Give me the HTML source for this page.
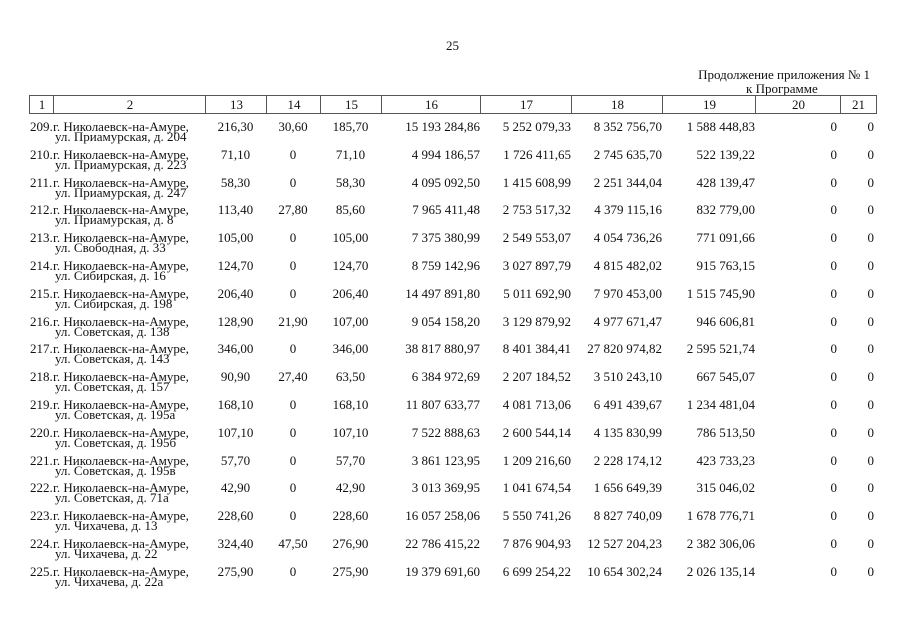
<!DOCTYPE html>
<html><head><meta charset="utf-8"><style>
body{margin:0;width:905px;height:640px;background:#fff;position:relative;overflow:hidden;font-family:"Liberation Serif","DejaVu Serif",serif;color:#111;font-size:13px}
.a{position:absolute;white-space:nowrap}
.h{position:absolute;top:95px;height:19px;border:1px solid #555;border-right:none;text-align:center;line-height:18px;box-sizing:border-box}
.r{position:absolute;left:0;width:905px;height:24px;line-height:10px}
.r span{position:absolute;top:0;white-space:nowrap}
.n{left:30px}
.t1{left:53px}
.t2{left:55px;top:10px!important}
.c13{left:205px;width:61px;text-align:center}
.c14{left:266px;width:54px;text-align:center}
.c15{left:320px;width:61px;text-align:center}
.c16{right:425px}
.c17{right:334px}
.c18{right:243px}
.c19{right:150px}
.c20{right:68px}
.c21{right:31px}
</style></head><body>
<div class="a" style="left:446px;top:38px">25</div>
<div class="a" style="right:35px;top:67px">Продолжение приложения № 1</div>
<div class="a" style="left:746px;top:81px">к Программе</div>
<div class="h" style="left:29px;width:25px">1</div>
<div class="h" style="left:53px;width:153px">2</div>
<div class="h" style="left:205px;width:62px">13</div>
<div class="h" style="left:266px;width:55px">14</div>
<div class="h" style="left:320px;width:62px">15</div>
<div class="h" style="left:381px;width:100px">16</div>
<div class="h" style="left:480px;width:92px">17</div>
<div class="h" style="left:571px;width:92px">18</div>
<div class="h" style="left:662px;width:94px">19</div>
<div class="h" style="left:755px;width:86px">20</div>
<div class="h" style="left:840px;width:37px;border-right:1px solid #555">21</div>

<div class="r" style="top:122px"><span class="n">209.</span><span class="t1">г. Николаевск-на-Амуре,</span><span class="t2">ул. Приамурская, д. 204</span><span class="c13">216,30</span><span class="c14">30,60</span><span class="c15">185,70</span><span class="c16">15 193 284,86</span><span class="c17">5 252 079,33</span><span class="c18">8 352 756,70</span><span class="c19">1 588 448,83</span><span class="c20">0</span><span class="c21">0</span></div>
<div class="r" style="top:149.8px"><span class="n">210.</span><span class="t1">г. Николаевск-на-Амуре,</span><span class="t2">ул. Приамурская, д. 223</span><span class="c13">71,10</span><span class="c14">0</span><span class="c15">71,10</span><span class="c16">4 994 186,57</span><span class="c17">1 726 411,65</span><span class="c18">2 745 635,70</span><span class="c19">522 139,22</span><span class="c20">0</span><span class="c21">0</span></div>
<div class="r" style="top:177.6px"><span class="n">211.</span><span class="t1">г. Николаевск-на-Амуре,</span><span class="t2">ул. Приамурская, д. 247</span><span class="c13">58,30</span><span class="c14">0</span><span class="c15">58,30</span><span class="c16">4 095 092,50</span><span class="c17">1 415 608,99</span><span class="c18">2 251 344,04</span><span class="c19">428 139,47</span><span class="c20">0</span><span class="c21">0</span></div>
<div class="r" style="top:205.4px"><span class="n">212.</span><span class="t1">г. Николаевск-на-Амуре,</span><span class="t2">ул. Приамурская, д. 8</span><span class="c13">113,40</span><span class="c14">27,80</span><span class="c15">85,60</span><span class="c16">7 965 411,48</span><span class="c17">2 753 517,32</span><span class="c18">4 379 115,16</span><span class="c19">832 779,00</span><span class="c20">0</span><span class="c21">0</span></div>
<div class="r" style="top:233.2px"><span class="n">213.</span><span class="t1">г. Николаевск-на-Амуре,</span><span class="t2">ул. Свободная, д. 33</span><span class="c13">105,00</span><span class="c14">0</span><span class="c15">105,00</span><span class="c16">7 375 380,99</span><span class="c17">2 549 553,07</span><span class="c18">4 054 736,26</span><span class="c19">771 091,66</span><span class="c20">0</span><span class="c21">0</span></div>
<div class="r" style="top:261px"><span class="n">214.</span><span class="t1">г. Николаевск-на-Амуре,</span><span class="t2">ул. Сибирская, д. 16</span><span class="c13">124,70</span><span class="c14">0</span><span class="c15">124,70</span><span class="c16">8 759 142,96</span><span class="c17">3 027 897,79</span><span class="c18">4 815 482,02</span><span class="c19">915 763,15</span><span class="c20">0</span><span class="c21">0</span></div>
<div class="r" style="top:288.8px"><span class="n">215.</span><span class="t1">г. Николаевск-на-Амуре,</span><span class="t2">ул. Сибирская, д. 198</span><span class="c13">206,40</span><span class="c14">0</span><span class="c15">206,40</span><span class="c16">14 497 891,80</span><span class="c17">5 011 692,90</span><span class="c18">7 970 453,00</span><span class="c19">1 515 745,90</span><span class="c20">0</span><span class="c21">0</span></div>
<div class="r" style="top:316.6px"><span class="n">216.</span><span class="t1">г. Николаевск-на-Амуре,</span><span class="t2">ул. Советская, д. 138</span><span class="c13">128,90</span><span class="c14">21,90</span><span class="c15">107,00</span><span class="c16">9 054 158,20</span><span class="c17">3 129 879,92</span><span class="c18">4 977 671,47</span><span class="c19">946 606,81</span><span class="c20">0</span><span class="c21">0</span></div>
<div class="r" style="top:344.4px"><span class="n">217.</span><span class="t1">г. Николаевск-на-Амуре,</span><span class="t2">ул. Советская, д. 143</span><span class="c13">346,00</span><span class="c14">0</span><span class="c15">346,00</span><span class="c16">38 817 880,97</span><span class="c17">8 401 384,41</span><span class="c18">27 820 974,82</span><span class="c19">2 595 521,74</span><span class="c20">0</span><span class="c21">0</span></div>
<div class="r" style="top:372.2px"><span class="n">218.</span><span class="t1">г. Николаевск-на-Амуре,</span><span class="t2">ул. Советская, д. 157</span><span class="c13">90,90</span><span class="c14">27,40</span><span class="c15">63,50</span><span class="c16">6 384 972,69</span><span class="c17">2 207 184,52</span><span class="c18">3 510 243,10</span><span class="c19">667 545,07</span><span class="c20">0</span><span class="c21">0</span></div>
<div class="r" style="top:400px"><span class="n">219.</span><span class="t1">г. Николаевск-на-Амуре,</span><span class="t2">ул. Советская, д. 195а</span><span class="c13">168,10</span><span class="c14">0</span><span class="c15">168,10</span><span class="c16">11 807 633,77</span><span class="c17">4 081 713,06</span><span class="c18">6 491 439,67</span><span class="c19">1 234 481,04</span><span class="c20">0</span><span class="c21">0</span></div>
<div class="r" style="top:427.8px"><span class="n">220.</span><span class="t1">г. Николаевск-на-Амуре,</span><span class="t2">ул. Советская, д. 195б</span><span class="c13">107,10</span><span class="c14">0</span><span class="c15">107,10</span><span class="c16">7 522 888,63</span><span class="c17">2 600 544,14</span><span class="c18">4 135 830,99</span><span class="c19">786 513,50</span><span class="c20">0</span><span class="c21">0</span></div>
<div class="r" style="top:455.6px"><span class="n">221.</span><span class="t1">г. Николаевск-на-Амуре,</span><span class="t2">ул. Советская, д. 195в</span><span class="c13">57,70</span><span class="c14">0</span><span class="c15">57,70</span><span class="c16">3 861 123,95</span><span class="c17">1 209 216,60</span><span class="c18">2 228 174,12</span><span class="c19">423 733,23</span><span class="c20">0</span><span class="c21">0</span></div>
<div class="r" style="top:483.4px"><span class="n">222.</span><span class="t1">г. Николаевск-на-Амуре,</span><span class="t2">ул. Советская, д. 71а</span><span class="c13">42,90</span><span class="c14">0</span><span class="c15">42,90</span><span class="c16">3 013 369,95</span><span class="c17">1 041 674,54</span><span class="c18">1 656 649,39</span><span class="c19">315 046,02</span><span class="c20">0</span><span class="c21">0</span></div>
<div class="r" style="top:511.2px"><span class="n">223.</span><span class="t1">г. Николаевск-на-Амуре,</span><span class="t2">ул. Чихачева, д. 13</span><span class="c13">228,60</span><span class="c14">0</span><span class="c15">228,60</span><span class="c16">16 057 258,06</span><span class="c17">5 550 741,26</span><span class="c18">8 827 740,09</span><span class="c19">1 678 776,71</span><span class="c20">0</span><span class="c21">0</span></div>
<div class="r" style="top:539px"><span class="n">224.</span><span class="t1">г. Николаевск-на-Амуре,</span><span class="t2">ул. Чихачева, д. 22</span><span class="c13">324,40</span><span class="c14">47,50</span><span class="c15">276,90</span><span class="c16">22 786 415,22</span><span class="c17">7 876 904,93</span><span class="c18">12 527 204,23</span><span class="c19">2 382 306,06</span><span class="c20">0</span><span class="c21">0</span></div>
<div class="r" style="top:566.8px"><span class="n">225.</span><span class="t1">г. Николаевск-на-Амуре,</span><span class="t2">ул. Чихачева, д. 22а</span><span class="c13">275,90</span><span class="c14">0</span><span class="c15">275,90</span><span class="c16">19 379 691,60</span><span class="c17">6 699 254,22</span><span class="c18">10 654 302,24</span><span class="c19">2 026 135,14</span><span class="c20">0</span><span class="c21">0</span></div>
</body></html>
